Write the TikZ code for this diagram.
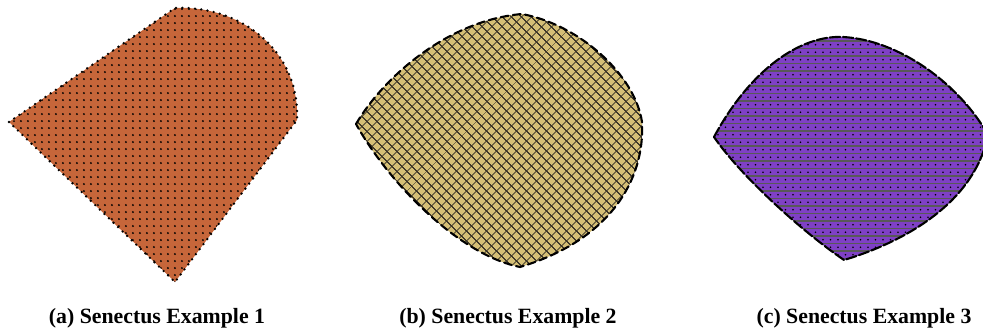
\documentclass[tikz,border=0pt]{standalone}
\usepackage{fontspec}
\setmainfont{Liberation Serif}
\usetikzlibrary{patterns.meta}
\definecolor{shapeorange}{HTML}{C6663A}
\definecolor{shapegold}{HTML}{D5BF76}
\definecolor{shapepurple}{HTML}{7F40C6}
\definecolor{hatchgray}{HTML}{3E3728}
\newcommand{\purpleoutline}{(714,137) .. controls (750,70) and (800,35) .. (843,37)
  .. controls (900,40) and (960,85) .. (988,135)
  .. controls (975,200) and (910,240) .. (844,260)
  .. controls (800,230) and (740,175) .. (714,137) -- cycle}
\begin{document}
\begin{tikzpicture}[line cap=round,line join=round,x=0.02cm,y=-0.02cm,
  caption/.style={font=\bfseries\fontsize{12.4}{15}\selectfont,inner sep=0pt}]
\clip (0,0) rectangle (983,331);
% (a) dots
\draw [line width=1.5pt,dash pattern=on 0pt off 3.6pt,
  preaction={fill=shapeorange},pattern={Dots[distance=3.983pt,radius=0.6pt]}]
  (9,122) -- (175,8) .. controls (240,5) and (300,50) .. (297,120) -- (175,282) -- cycle;
% (b) crosshatch
\draw [line width=1.2pt,dash pattern=on 4.5pt off 2.5pt,
  preaction={fill=shapegold},pattern={Hatch[angle=45,distance=4pt,line width=0.5pt]},pattern color=hatchgray]
  (356,124) .. controls (385,75) and (450,20) .. (522,14)
  .. controls (580,25) and (635,75) .. (642,122)
  .. controls (645,180) and (610,240) .. (520,267)
  .. controls (460,255) and (390,185) .. (356,124) -- cycle;
% (c) lines and dots
\begin{scope}
  \clip \purpleoutline;
  \fill [shapepurple] (700,30) rectangle (990,265);
  \foreach \y in {41,48.5,...,262}
    \draw [line width=0.6pt,black!65] (700,\y) -- (990,\y);
  \foreach \y in {44.75,52.25,...,262}
    \foreach \x in {718,725.5,...,990}
      \fill [black] (\x,\y) circle (0.55pt);
\end{scope}
\draw [line width=1.2pt,dash pattern=on 6pt off 1.5pt] \purpleoutline;
% captions
\node [caption] (capa) at (157,318) {(a) Senectus Example 1};
\node [caption] (capb) at (508,318) {(b) Senectus Example 2};
\node [caption] (capc) at (864,318) {(c) Senectus Example 3};
\end{tikzpicture}
\end{document}
